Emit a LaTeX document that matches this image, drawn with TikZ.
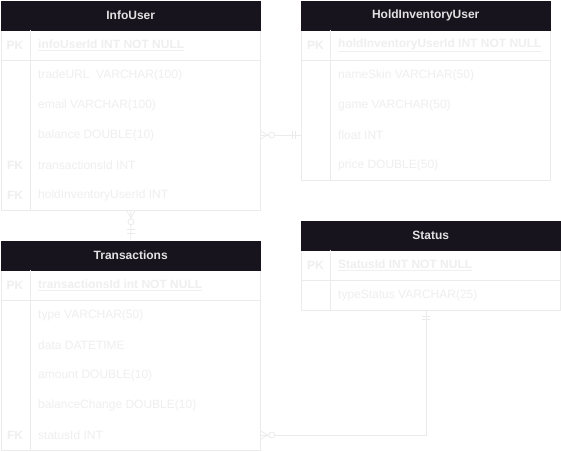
\documentclass[tikz,border=0pt]{standalone}
\usepackage{fontspec}
\setmainfont{Liberation Sans}
\definecolor{hdrfill}{HTML}{18141D}
\definecolor{hdrtext}{HTML}{E2E2E2}
\definecolor{bodytext}{HTML}{EFEFEF}
\definecolor{gridline}{HTML}{EBEBEB}
\tikzset{
  tbl/.style={draw=gridline, line width=0.8pt, fill=white, anchor=north west, inner sep=0pt},
  hdr/.style={fill=hdrfill, draw=hdrfill, anchor=north west, inner sep=0pt, text=hdrtext, font=\fontsize{12}{14}\selectfont\bfseries},
  grid/.style={draw=gridline, line width=0.8pt},
  fld/.style={anchor=west, inner sep=0pt, text=bodytext, font=\fontsize{12}{14}\selectfont},
  pkfld/.style={fld, font=\fontsize{12}{14}\selectfont\bfseries},
  key/.style={anchor=center, inner sep=0pt, text=bodytext, font=\fontsize{12}{14}\selectfont\bfseries},
  rel/.style={draw=gridline, line width=0.8pt},
}
\begin{document}
\begin{tikzpicture}[x=1pt,y=-1pt]
\useasboundingbox (0,0) rectangle (561,451);
% ---------- InfoUser ----------
\node[tbl, minimum width=259pt, minimum height=209pt] (info) at (1,1) {};
\node[hdr, minimum width=259pt, minimum height=29pt] (infoH) at (1,1) {InfoUser};
\draw[grid] (1,60) -- (260,60);
\draw[grid] (30,30) -- (30,210);
\node[key] (ipk) at (15,45) {PK};
\node[pkfld] (i0) at (38,45) {\underline{infoUserId INT NOT NULL}};
\node[fld] (i1) at (38,75) {tradeURL\ \ VARCHAR(100)};
\node[fld] (i2) at (38,105) {email VARCHAR(100)};
\node[fld] (i3) at (38,135) {balance DOUBLE(10)};
\node[key] (ifk1) at (15,165) {FK};
\node[fld] (i4) at (38,165) {transactionsId INT};
\node[key] (ifk2) at (15,195) {FK};
\node[fld] (i5) at (38,195) {holdInventoryUserId INT};
% ---------- HoldInventoryUser ----------
\node[tbl, minimum width=249pt, minimum height=179pt] (hiu) at (301,1) {};
\node[hdr, minimum width=249pt, minimum height=29pt] (hiuH) at (301,1) {HoldInventoryUser};
\draw[grid] (301,60) -- (550,60);
\draw[grid] (330,30) -- (330,180);
\node[key] (hpk) at (315.5,45) {PK};
\node[pkfld] (h0) at (338,45) {\underline{holdInventoryUserId INT NOT NULL}};
\node[fld] (h1) at (338,75) {nameSkin VARCHAR(50)};
\node[fld] (h2) at (338,105) {game VARCHAR(50)};
\node[fld] (h3) at (338,135) {float INT};
\node[fld] (h4) at (338,165) {price DOUBLE(50)};
% ---------- Transactions ----------
\node[tbl, minimum width=259pt, minimum height=209pt] (tr) at (1,241) {};
\node[hdr, minimum width=259pt, minimum height=29pt] (trH) at (1,241) {Transactions};
\draw[grid] (1,300) -- (260,300);
\draw[grid] (30,270) -- (30,450);
\node[key] (tpk) at (15,285) {PK};
\node[pkfld] (t0) at (38,285) {\underline{transactionsId int NOT NULL}};
\node[fld] (t1) at (38,315) {type VARCHAR(50)};
\node[fld] (t2) at (38,345) {data DATETIME};
\node[fld] (t3) at (38,375) {amount DOUBLE(10)};
\node[fld] (t4) at (38,405) {balanceChange DOUBLE(10)};
\node[key] (tfk) at (15,435) {FK};
\node[fld] (t5) at (38,435) {statusId INT};
% ---------- Status ----------
\node[tbl, minimum width=259pt, minimum height=89pt] (st) at (301,221) {};
\node[hdr, minimum width=259pt, minimum height=29pt] (stH) at (301,221) {Status};
\draw[grid] (301,280) -- (560,280);
\draw[grid] (330,250) -- (330,310);
\node[key] (spk) at (315.5,265) {PK};
\node[pkfld] (s0) at (338,265) {\underline{StatusId INT NOT NULL}};
\node[fld] (s1) at (338,295) {typeStatus VARCHAR(25)};
% ---------- Relation InfoUser -> HoldInventoryUser ----------
\coordinate (a1) at (info.east |- i3);
\coordinate (a2) at (hiu.west |- i3);
\draw[rel] (a1) -- (a2);
\draw[rel] ([yshift=4pt]a1) -- ([xshift=7pt]a1) -- ([yshift=-4pt]a1);
\draw[rel, fill=white] ([xshift=11pt]a1) circle (3pt);
\draw[rel] ([xshift=-9pt,yshift=4pt]a2) -- ([xshift=-9pt,yshift=-4pt]a2);
\draw[rel] ([xshift=-6pt,yshift=4pt]a2) -- ([xshift=-6pt,yshift=-4pt]a2);
% ---------- Relation InfoUser -> Transactions ----------
\coordinate (b1) at (info.south);
\coordinate (b2) at (trH.north);
\draw[rel] (b1) -- (b2);
\draw[rel] ([xshift=-4pt]b1) -- ([yshift=-7pt]b1) -- ([xshift=4pt]b1);
\draw[rel, fill=white] ([yshift=-11pt]b1) circle (3pt);
\draw[rel] ([xshift=-4pt,yshift=12pt]b2) -- ([xshift=4pt,yshift=12pt]b2);
\draw[rel] ([xshift=-4pt,yshift=8pt]b2) -- ([xshift=4pt,yshift=8pt]b2);
% ---------- Relation Transactions -> Status ----------
\coordinate (c1) at (tr.east |- t5);
\coordinate (c2) at (426,310);
\coordinate (c3) at (c2 |- t5);
\draw[rel] (c1) -- (c3) -- (c2);
\draw[rel] ([yshift=4pt]c1) -- ([xshift=7pt]c1) -- ([yshift=-4pt]c1);
\draw[rel, fill=white] ([xshift=11pt]c1) circle (3pt);
\draw[rel] ([xshift=-4pt,yshift=-6pt]c2) -- ([xshift=4pt,yshift=-6pt]c2);
\draw[rel] ([xshift=-4pt,yshift=-9pt]c2) -- ([xshift=4pt,yshift=-9pt]c2);
\end{tikzpicture}
\end{document}
